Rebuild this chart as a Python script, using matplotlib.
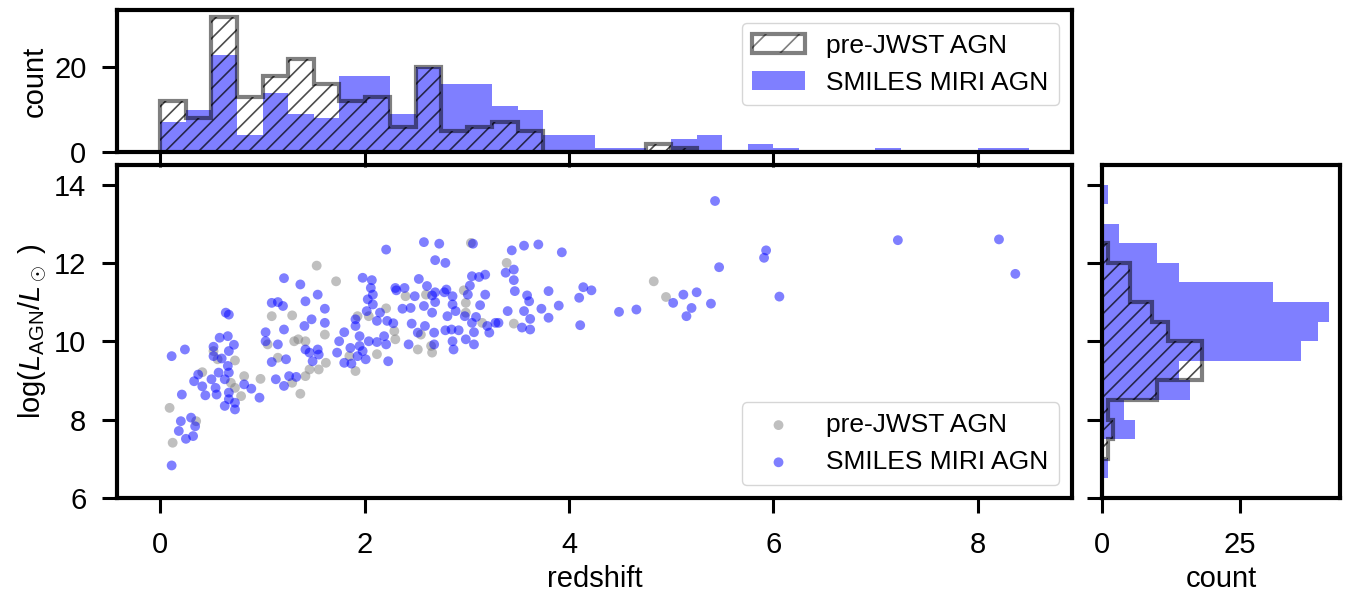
import numpy as np
import matplotlib
matplotlib.use('Agg')
import matplotlib.pyplot as plt
from matplotlib.patches import Patch

plt.rcParams['font.family'] = ['Liberation Sans', 'DejaVu Sans']
plt.rcParams['mathtext.fontset'] = 'custom'
plt.rcParams['mathtext.rm'] = 'Liberation Sans'
plt.rcParams['mathtext.it'] = 'Liberation Sans:italic'
plt.rcParams['font.size'] = 21
plt.rcParams['axes.linewidth'] = 3
plt.rcParams['hatch.linewidth'] = 1.2

## scatter data (redshift, log L_AGN)
smiles_z = [0.11, 0.11, 0.24, 0.21, 0.20, 0.18, 0.25, 0.30, 0.32, 0.34, 0.33, 0.37, 0.41, 0.44,
            0.50, 0.52, 0.52, 0.54, 0.55, 0.57, 0.58, 0.60, 0.63, 0.63, 0.64, 0.67, 0.66, 0.67,
            0.66, 0.67, 0.72, 0.67, 0.67, 0.73, 0.73, 0.82, 0.89, 0.97, 1.03, 1.03, 1.09, 1.15,
            1.20, 1.21, 1.21, 1.15, 1.09, 1.23, 1.13, 1.21, 1.26, 1.33, 1.37, 1.42, 1.41, 1.42,
            1.46, 1.48, 1.49, 1.54, 1.54, 1.55, 1.61, 1.61, 1.73, 1.75, 1.80, 1.80, 1.86, 1.87,
            1.91, 1.91, 1.93, 1.95, 1.95, 1.98, 1.98, 2.02, 2.03, 2.04, 2.06, 2.07, 2.08, 2.08,
            2.01, 2.12, 2.12, 2.15, 2.19, 2.21, 2.21, 2.23, 2.22, 2.28, 2.30, 2.31, 2.39, 2.37,
            2.43, 2.45, 2.46, 2.49, 2.52, 2.53, 2.58, 2.58, 2.59, 2.61, 2.66, 2.66, 2.68, 2.68,
            2.69, 2.69, 2.69, 2.73, 2.79, 2.78, 2.80, 2.81, 2.79, 2.86, 2.86, 2.87, 2.86, 2.85,
            2.89, 2.92, 2.98, 2.99, 3.01, 3.03, 3.05, 3.05, 3.07, 3.07, 3.06, 3.09, 3.12, 3.13,
            3.18, 3.18, 3.20, 3.22, 3.28, 3.31, 3.38, 3.40, 3.44, 3.46, 3.46, 3.47, 3.54, 3.56,
            3.56, 3.59, 3.61, 3.62, 3.62, 3.70, 3.73, 3.80, 3.80, 3.90, 3.93, 4.10, 4.11, 4.14,
            4.22, 4.49, 4.66, 5.02, 5.12, 5.25, 5.20, 5.15, 5.39, 5.43, 5.47, 5.93, 5.91, 6.06,
            7.22, 8.21, 8.37]
smiles_L = [6.83, 9.62, 9.79, 8.64, 7.96, 7.71, 7.51, 8.05, 7.58, 7.83, 8.98, 9.15, 8.85, 8.62,
            9.03, 9.62, 9.86, 8.81, 8.64, 9.20, 10.09, 9.56, 9.03, 8.35, 10.73, 10.68, 10.13, 9.75,
            9.37, 9.20, 9.91, 8.69, 8.52, 8.26, 8.43, 8.90, 8.79, 8.56, 10.23, 10.00, 10.98, 11.00,
            10.90, 11.61, 10.30, 9.92, 9.47, 9.54, 9.03, 8.86, 9.11, 9.09, 11.45, 11.02, 10.39, 9.79,
            9.71, 10.56, 9.49, 11.19, 9.79, 9.66, 10.83, 10.47, 9.71, 10.00, 10.23, 9.45, 9.83, 9.43,
            10.56, 10.39, 9.62, 10.13, 9.88, 9.75, 11.62, 10.77, 11.07, 10.00, 11.36, 11.56, 11.19, 10.94,
            9.54, 9.98, 10.52, 10.73, 10.13, 9.92, 12.34, 9.49, 10.52, 10.46, 11.36, 11.30, 11.36, 10.83,
            9.92, 10.85, 10.45, 11.15, 10.22, 11.59, 12.53, 10.90, 10.39, 11.41, 11.17, 10.73, 9.92, 10.22,
            11.00, 12.07, 11.25, 12.49, 12.00, 11.25, 11.32, 10.64, 10.28, 11.15, 10.94, 9.79, 10.00, 10.30,
            10.77, 10.28, 10.64, 10.05, 11.19, 11.42, 11.66, 10.47, 10.23, 9.92, 12.49, 10.62, 11.64, 10.92,
            11.70, 11.19, 10.39, 10.22, 10.47, 10.47, 11.75, 10.77, 12.32, 11.83, 11.56, 11.28, 10.35, 12.44,
            10.77, 11.17, 11.02, 10.57, 10.30, 12.47, 10.83, 11.28, 10.60, 10.91, 12.27, 11.11, 10.41, 11.38,
            11.30, 10.75, 10.81, 10.98, 11.19, 11.25, 10.85, 10.64, 10.96, 13.58, 11.89, 12.32, 12.13, 11.14,
            12.58, 12.60, 11.72]

prejwst_z = [0.09, 0.12, 0.35, 0.41, 0.52, 0.56, 0.73, 0.73, 0.69, 0.79, 0.82, 0.98, 1.09, 1.05,
             1.15, 1.29, 1.31, 1.35, 1.42, 1.37, 1.29, 1.42, 1.46, 1.55, 1.61, 1.62, 1.53, 1.72,
             1.85, 1.91, 1.93, 2.12, 2.21, 2.29, 2.30, 2.40, 2.52, 2.55, 2.60, 2.65, 2.66, 2.97,
             2.99, 2.99, 3.04, 3.15, 3.39, 3.46, 2.04, 4.83, 4.95]
prejwst_L = [8.30, 7.41, 7.96, 9.21, 9.75, 9.54, 9.51, 8.81, 8.94, 8.60, 9.11, 9.04, 10.64, 9.92,
             9.58, 10.66, 10.00, 10.05, 10.00, 8.66, 8.94, 9.11, 9.28, 9.28, 10.17, 9.45, 11.93, 11.53,
             9.62, 9.24, 10.64, 9.67, 10.84, 10.26, 10.05, 11.15, 9.79, 10.17, 11.19, 9.88, 9.71, 11.30,
             10.98, 10.73, 12.51, 10.47, 12.00, 10.45, 10.64, 11.53, 11.13]

## histogram counts
z_edges = np.linspace(0, 8.5, 35)
smiles_z_counts = [7, 10, 23, 4, 14, 9, 8, 18, 18, 9, 20, 16, 16, 11, 10, 4, 4,
                   1, 1, 0, 3, 4, 0, 2, 1, 0, 0, 0, 1, 0, 0, 0, 1, 1]
prejwst_z_counts = [12, 8, 32, 13, 18, 22, 16, 12, 13, 6, 20, 5, 6, 7, 5, 0, 0,
                    0, 0, 2, 1]

L_edges = np.linspace(6.5, 14.0, 16)
smiles_L_counts = [1, 0, 6, 4, 16, 14, 36, 39, 41, 31, 14, 10, 3, 0, 1]
prejwst_L_counts = [0, 1, 2, 1, 10, 18, 18, 12, 9, 5, 5, 1]

fig = plt.figure(figsize=(13.51, 6.02), dpi=100)
ax = fig.add_axes([0.0866, 0.1728, 0.7069, 0.5532])
ax_top = fig.add_axes([0.0866, 0.7475, 0.7069, 0.2359], sharex=ax)
ax_right = fig.add_axes([0.8157, 0.1728, 0.1762, 0.5532], sharey=ax)

## scatter
ax.scatter(prejwst_z, prejwst_L, s=50, color='gray', alpha=0.5, edgecolors='none', label='pre-JWST AGN')
ax.scatter(smiles_z, smiles_L, s=50, color='blue', alpha=0.5, edgecolors='none', label='SMILES MIRI AGN')
ax.set_xlim(-0.425, 8.925)
ax.set_ylim(6, 14.5)
ax.set_xticks([0, 2, 4, 6, 8])
ax.set_yticks([6, 8, 10, 12, 14])
ax.set_xlabel('redshift')
ax.set_ylabel(r'log($L_{\rm AGN}/L_\odot$ )')
ax.legend(loc='lower right', fontsize=19)

## top histogram: hatch layer, grey outline, then blue bars
pre_e = z_edges[:len(prejwst_z_counts) + 1]
ax_top.hist(pre_e[:-1], bins=pre_e, weights=prejwst_z_counts, histtype='step',
            hatch='//', edgecolor=(0, 0, 0, 0.7), linewidth=0)
ax_top.hist(pre_e[:-1], bins=pre_e, weights=prejwst_z_counts, histtype='step',
            edgecolor=(0, 0, 0, 0.5), linewidth=3)
_, _, blue_top = ax_top.hist(z_edges[:-1], bins=z_edges, weights=smiles_z_counts, color='blue',
                             alpha=0.5)
ax_top.set_ylim(0, 33.6)
ax_top.set_yticks([0, 20])
ax_top.set_ylabel('count')
ax_top.tick_params(labelbottom=False)
pre_handle = Patch(facecolor='none', edgecolor=(0, 0, 0, 0.5), linewidth=3, hatch='/')
ax_top.legend([pre_handle, blue_top[0]], ['pre-JWST AGN', 'SMILES MIRI AGN'],
              loc='upper right', fontsize=19)

## right histogram
pre_L = L_edges[:len(prejwst_L_counts) + 1]
ax_right.hist(pre_L[:-1], bins=pre_L, weights=prejwst_L_counts, histtype='step', hatch='//',
              edgecolor=(0, 0, 0, 0.7), linewidth=0, orientation='horizontal')
ax_right.hist(pre_L[:-1], bins=pre_L, weights=prejwst_L_counts, histtype='step',
              edgecolor=(0, 0, 0, 0.5), linewidth=3, orientation='horizontal')
ax_right.hist(L_edges[:-1], bins=L_edges, weights=smiles_L_counts, color='blue', alpha=0.5,
              orientation='horizontal')
ax_right.set_xlim(0, 43.05)
ax_right.set_xticks([0, 25])
ax_right.set_xlabel('count')
ax_right.tick_params(labelleft=False)

for a in (ax, ax_top, ax_right):
    a.tick_params(direction='out', length=11, width=2.2, labelsize=21)
    a.tick_params(axis='x', pad=13)
    a.tick_params(axis='y', pad=11)

fig.savefig('out.png', dpi=100)
